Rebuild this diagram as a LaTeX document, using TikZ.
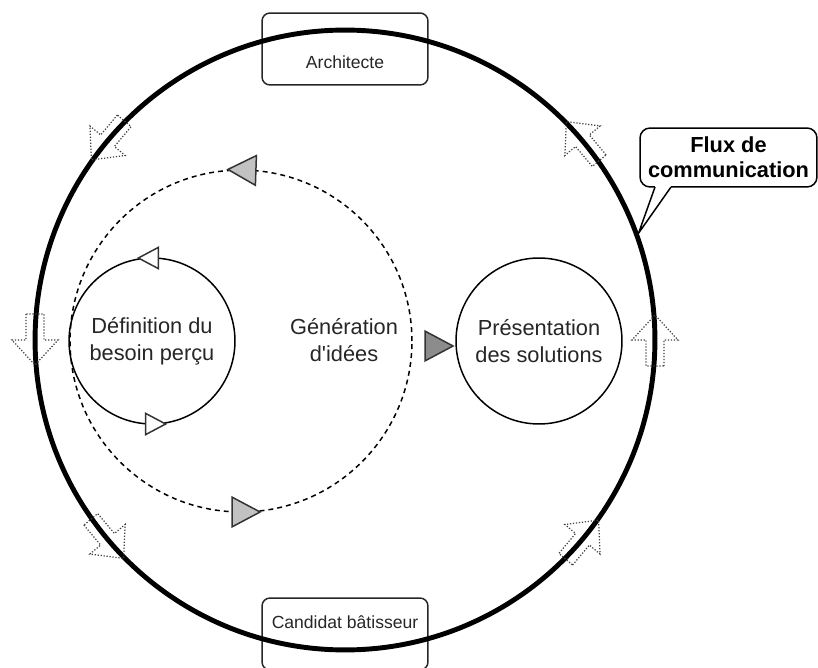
\documentclass[tikz,border=0pt]{standalone}
\usepackage{fontspec}
\setmainfont{Liberation Sans}
\usetikzlibrary{shapes,calc,positioning}
\definecolor{lightcue}{gray}{0.76}
\definecolor{darkcue}{gray}{0.55}
\tikzset{
    stage/.style={
        circle,
        draw=black,
        line width=0.85pt,
        minimum size=3.32cm,
        inner sep=0pt,
        align=center,
        text=black!85,
        font=\fontsize{12.4}{15.3}\selectfont,
    },
    ideas/.style={
        circle,
        draw=black,
        line width=0.85pt,
        dash pattern=on 2.8pt off 2.3pt,
        minimum size=6.84cm,
        inner sep=0pt,
    },
    ring/.style={
        circle,
        draw=black,
        line width=2.8pt,
        minimum size=12.4cm,
        inner sep=0pt,
    },
    actor/.style={
        rectangle,
        rounded corners=0.16cm,
        draw=black!85,
        line width=0.85pt,
        minimum width=3.32cm,
        minimum height=1.44cm,
        label distance=0pt,
    },
    actortext/.style={
        text=black!85,
        font=\fontsize{10}{12}\selectfont,
    },
    note/.style={
        rectangle,
        rounded corners=0.2cm,
        draw=black,
        fill=white,
        line width=0.85pt,
        outer sep=0pt,
        minimum width=3.54cm,
        minimum height=1.18cm,
        align=center,
        font=\bfseries\fontsize{12.4}{14.2}\selectfont,
    },
    cue/.style={
        isosceles triangle,
        isosceles triangle apex angle=56,
        draw=black!80,
        line width=0.85pt,
        inner sep=0pt,
        minimum size=0.56cm,
    },
    smallcue/.style={
        cue,
        fill=white,
        minimum size=0.4cm,
    },
    flow/.style={
        draw=black!75,
        densely dotted,
        line width=0.7pt,
        line join=miter,
    },
}

\begin{document}
\begin{tikzpicture}[x=0.02cm,y=0.02cm]
    \useasboundingbox (0,0) rectangle (818,667);

    % actors
    \node [actor, label={[actortext, yshift=-0.26cm]center:Architecte}] (archi) at (345,618) {};
    \node [actor, label={[actortext, yshift=0.24cm]center:Candidat bâtisseur}] (batisseur) at (345,33) {};

    % circles
    \node [ring] (flux) at (345,327) {};
    \node [ideas] (gen) at (241,326) {};
    \node [stage] (besoin) at (152,326) {Définition du\\besoin perçu};
    \node [stage] (pres) at (539,326) {Présentation\\des solutions};
    \node [text=black!85, align=center, font=\fontsize{12.4}{15.3}\selectfont] (genlbl)
        at ($(gen.center)+(103,1)$) {Génération\\d\textquotesingle idées};

    % direction marks
    \node [cue, fill=lightcue, rotate=178] (gentop) at ($(gen.center)+(88:171)$) {};
    \node [cue, fill=lightcue] (genbot) at ($(gen.center)+(270:171)$) {};
    \node [smallcue, rotate=180] (besointop) at ($(besoin.center)+(90:83)$) {};
    \node [smallcue] (besoinbot) at ($(besoin.center)+(270:83)$) {};
    \node [cue, fill=darkcue, yshift=-0.1cm] (handoff) at ($(gen.east)!0.5!(pres.west)$) {};

    % flow arrows on the ring
    \foreach \a in {0,40,140,180,220,320} {
        \begin{scope}[shift={($(flux.center)+(\a:310)$)}, rotate=\a+90]
            \draw [flow] (-26,-9) -- (0,-9) -- (0,-23) -- (25,0) -- (0,23) -- (0,9) -- (-26,9) -- cycle;
        \end{scope}
    }

    % callout
    \node [note] (fluxnote) at (728.5,509.5) {Flux de\\communication};
    \coordinate (pa) at ($(fluxnote.south west)+(15,0)$);
    \coordinate (pb) at ($(fluxnote.south west)+(31,0)$);
    \draw [white, line width=1.4pt] (pa) -- (pb);
    \draw [line width=0.85pt, line join=miter] (pa) -- (flux.20) -- (pb);
\end{tikzpicture}
\end{document}
